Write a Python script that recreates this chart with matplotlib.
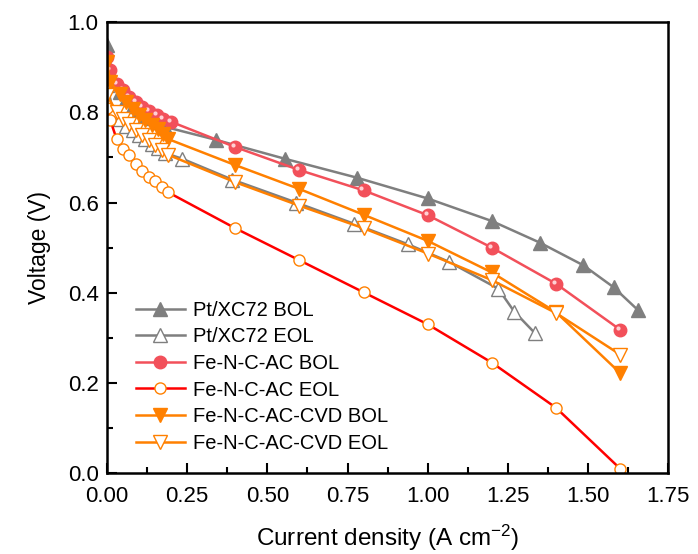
import matplotlib
matplotlib.use("Agg")
import matplotlib.pyplot as plt
from matplotlib.ticker import MultipleLocator, FormatStrFormatter
from matplotlib.transforms import offset_copy

plt.rcParams['font.family'] = ['Liberation Sans', 'DejaVu Sans']
plt.rcParams['mathtext.default'] = 'regular'

# Pt/XC72
pt_bol_x = [0, 0.02, 0.04, 0.06, 0.08, 0.10, 0.12, 0.14, 0.16, 0.18, 0.34, 0.555, 0.78, 1.0, 1.2, 1.35, 1.485, 1.58, 1.655]
pt_bol_y = [0.95, 0.87, 0.845, 0.83, 0.815, 0.805, 0.795, 0.787, 0.778, 0.768, 0.739, 0.697, 0.655, 0.609, 0.559, 0.511, 0.461, 0.412, 0.362]
pt_eol_x = [0, 0.02, 0.04, 0.06, 0.08, 0.10, 0.12, 0.14, 0.16, 0.18, 0.235, 0.39, 0.59, 0.77, 0.94, 1.065, 1.22, 1.27, 1.335]
pt_eol_y = [0.86, 0.80, 0.785, 0.77, 0.76, 0.75, 0.74, 0.73, 0.72, 0.71, 0.697, 0.651, 0.600, 0.553, 0.507, 0.469, 0.409, 0.358, 0.310]

# Fe-N-C-AC
ac_bol_x = [0, 0.01, 0.03, 0.05, 0.07, 0.09, 0.11, 0.13, 0.155, 0.175, 0.2, 0.4, 0.6, 0.8, 1.0, 1.2, 1.4, 1.6]
ac_bol_y = [0.923, 0.894, 0.863, 0.85, 0.834, 0.823, 0.812, 0.803, 0.794, 0.785, 0.779, 0.723, 0.672, 0.627, 0.572, 0.500, 0.420, 0.318]
ac_eol_x = [0, 0.01, 0.03, 0.05, 0.07, 0.09, 0.11, 0.13, 0.15, 0.17, 0.19, 0.4, 0.6, 0.8, 1.0, 1.2, 1.4, 1.6]
ac_eol_y = [0.81, 0.783, 0.741, 0.719, 0.706, 0.686, 0.670, 0.657, 0.648, 0.635, 0.623, 0.543, 0.472, 0.401, 0.330, 0.245, 0.145, 0.010]

# Fe-N-C-AC-CVD
cvd_bol_x = [0, 0.01, 0.04, 0.06, 0.08, 0.10, 0.12, 0.14, 0.16, 0.175, 0.19, 0.4, 0.6, 0.8, 1.0, 1.2, 1.4, 1.6]
cvd_bol_y = [0.912, 0.867, 0.841, 0.823, 0.808, 0.794, 0.783, 0.772, 0.763, 0.752, 0.741, 0.683, 0.630, 0.573, 0.515, 0.445, 0.357, 0.222]
cvd_eol_x = [0, 0.03, 0.05, 0.07, 0.09, 0.11, 0.13, 0.15, 0.17, 0.19, 0.4, 0.6, 0.8, 1.0, 1.2, 1.4, 1.6]
cvd_eol_y = [0.838, 0.801, 0.785, 0.774, 0.761, 0.75, 0.739, 0.728, 0.717, 0.706, 0.645, 0.593, 0.543, 0.487, 0.428, 0.355, 0.263]

gray = '#7f7f7f'
pink = '#f2505a'
red = '#ff0000'
orange = '#ff8000'

fig = plt.figure(figsize=(6.98, 5.54), dpi=100)
ax = fig.add_axes([0.1533, 0.146, 0.804, 0.814])

lw = 1.8
ax.plot(pt_bol_x, pt_bol_y, color=gray, lw=lw, marker='^', ms=10, mfc=gray, mec=gray, label='Pt/XC72 BOL')
ax.plot(pt_eol_x, pt_eol_y, color=gray, lw=lw, marker='^', ms=10, mfc='white', mec=gray, mew=1.0, label='Pt/XC72 EOL')
ax.plot(ac_bol_x, ac_bol_y, color=pink, lw=lw, marker='o', ms=9, mfc=pink, mec=pink, label='Fe-N-C-AC BOL')
# highlight on the sphere markers
hl = offset_copy(ax.transData, fig=fig, x=-1.5, y=1.5, units='points')
ax.plot(ac_bol_x, ac_bol_y, ls='none', marker='o', ms=3, mfc='#ffd0d4', mec='none', transform=hl)
ax.plot(ac_eol_x, ac_eol_y, color=red, lw=lw, marker='o', ms=8, mfc='white', mec=orange, mew=1.0, label='Fe-N-C-AC EOL')
ax.plot(cvd_bol_x, cvd_bol_y, color=orange, lw=lw, marker='v', ms=10, mfc=orange, mec=orange, label='Fe-N-C-AC-CVD BOL')
ax.plot(cvd_eol_x, cvd_eol_y, color=orange, lw=lw, marker='v', ms=10, mfc='white', mec=orange, mew=1.0, label='Fe-N-C-AC-CVD EOL')

ax.set_xlim(0, 1.75)
ax.set_ylim(0, 1.0)
ax.xaxis.set_major_locator(MultipleLocator(0.25))
ax.xaxis.set_minor_locator(MultipleLocator(0.125))
ax.yaxis.set_major_locator(MultipleLocator(0.2))
ax.yaxis.set_minor_locator(MultipleLocator(0.1))
ax.xaxis.set_major_formatter(FormatStrFormatter('%.2f'))
ax.yaxis.set_major_formatter(FormatStrFormatter('%.1f'))

ax.tick_params(which='both', direction='in', top=False, right=False, labelsize=16, width=1.5)
ax.tick_params(which='major', length=7)
ax.tick_params(which='minor', length=4)
ax.tick_params(axis='x', which='major', pad=9)
ax.tick_params(axis='y', which='major', pad=6)
for s in ax.spines.values():
    s.set_linewidth(1.8)

ax.set_xlabel('Current density (A cm$^{-2}$)', fontsize=17.5, labelpad=12)
ax.set_ylabel('Voltage (V)', fontsize=16.5, labelpad=12)

leg = ax.legend(loc='lower left', bbox_to_anchor=(0.052, 0.045), frameon=False, fontsize=14.5,
                handlelength=2.4, labelspacing=0.38, handletextpad=0.4,
                borderpad=0, borderaxespad=0)

fig.savefig('out.png', dpi=100)
